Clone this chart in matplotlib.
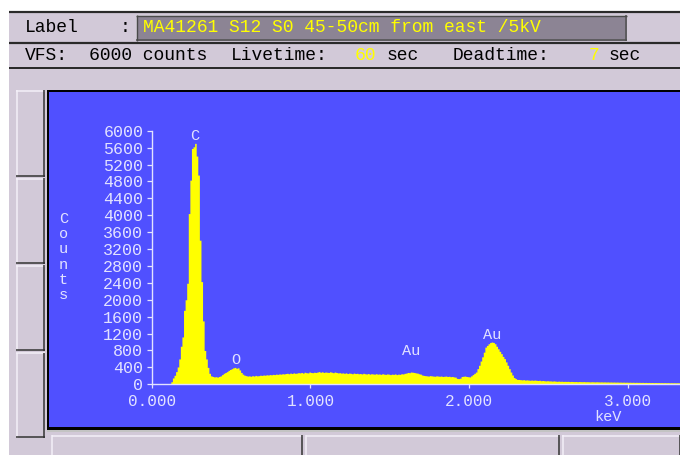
import numpy as np
import matplotlib
matplotlib.use("Agg")
import matplotlib.pyplot as plt
from matplotlib.patches import Rectangle

# ---------------- data ----------------
channel_kev = 0.01  # width of one spectrum channel (keV)
counts = [
    0, 0, 0, 0, 0, 0, 0, 0, 0, 0,                              # 0.00-0.09
    0, 0, 60, 150, 213, 300, 410, 600, 900, 1120,              # 0.10
    1750, 2000, 2390, 4040, 4830, 5580, 5620, 5700, 5400, 4950,  # 0.20
    3410, 2430, 1500, 800, 600, 400, 260, 200, 185, 175,       # 0.30
    180, 170, 185, 200, 230, 260, 280, 300, 330, 350,          # 0.40
    370, 390, 400, 380, 390, 340, 280, 240, 215, 205,          # 0.50
    195, 200, 190, 205, 195, 210, 200, 205, 215, 210,          # 0.60
    220, 215, 225, 220, 230, 225, 235, 230, 240, 235,          # 0.70
    245, 240, 250, 245, 255, 260, 250, 265, 255, 270,          # 0.80
    260, 265, 275, 270, 280, 265, 285, 275, 270, 290,          # 0.90
    280, 275, 285, 280, 290, 300, 285, 295, 280, 290,          # 1.00
    285, 280, 295, 285, 275, 290, 280, 270, 275, 265,          # 1.10
    270, 260, 270, 255, 265, 260, 250, 265, 255, 260,          # 1.20
    250, 255, 245, 260, 250, 245, 255, 240, 250, 245,          # 1.30
    240, 250, 240, 245, 235, 250, 240, 235, 245, 240,          # 1.40
    230, 240, 235, 245, 230, 240, 235, 250, 245, 260,          # 1.50
    265, 280, 275, 290, 285, 280, 270, 265, 250, 240,          # 1.60
    220, 210, 205, 200, 195, 205, 200, 195, 190, 200,          # 1.70
    195, 190, 195, 185, 190, 195, 185, 190, 180, 185,          # 1.80
    175, 170, 140, 135, 145, 185, 190, 195, 185, 180,          # 1.90
    175, 200, 230, 260, 290, 370, 450, 550, 650, 760,          # 2.00
    880, 920, 960, 990, 1000, 990, 960, 900, 840, 780,         # 2.10
    725, 660, 607, 530, 450, 370, 290, 220, 160, 135,          # 2.20
    115, 115, 110, 105, 110, 100, 105, 100, 95, 100,           # 2.30
    95, 100, 95, 90, 95, 85, 90, 85, 80, 85,                   # 2.40
    80, 80, 75, 80, 75, 70, 75, 70, 72, 68,                    # 2.50
    70, 68, 70, 65, 68, 66, 64, 66, 62, 65,                    # 2.60
    63, 62, 64, 60, 62, 60, 58, 61, 59, 57,                    # 2.70
    60, 58, 56, 58, 55, 57, 54, 56, 53, 55,                    # 2.80
    52, 54, 51, 53, 50, 52, 49, 51, 48, 50,                    # 2.90
    47, 49, 46, 48, 45, 47, 45, 46, 44, 46,                    # 3.00
    43, 45, 42, 44, 41, 43, 40, 42, 40, 41,                    # 3.10
    39, 40, 38, 40, 37, 39, 36, 38, 36, 37,                    # 3.20
    35, 36, 35, 34,                                            # 3.30
]
x_ticks = [0, 1, 2, 3]
x_tick_labels = ["0.000", "1.000", "2.000", "3.000"]
y_ticks = list(range(0, 6001, 400))
peak_labels = ["C", "O", "Au", "Au"]
peak_label_kev = [0.269, 0.527, 1.638, 2.148]
peak_label_counts = [5870, 583, 781, 1171]
label_text = "MA41261 S12 S0 45-50cm from east /5kV"
vfs_text = "6000 counts"
livetime_text = "60"
deadtime_text = "7"

# ---------------- style ----------------
plt.rcParams['font.family'] = ['Liberation Mono', 'DejaVu Sans Mono']
LAV = "#D2C9D8"
BLUE = "#5050FF"
LIGHT = "#E2E2FF"
YEL = "#FFFF00"
DARK = "#2A2A2A"
W, H = 680, 455

def lw(px):
    return px * 0.72

fig = plt.figure(figsize=(6.8, 4.55), dpi=100)
fig.patch.set_facecolor("white")
bg = fig.add_axes([0, 0, 1, 1])
bg.set_xlim(0, W)
bg.set_ylim(H, 0)
bg.axis("off")

def hline(x0, x1, y, color, w):
    bg.plot([x0, x1], [y, y], color=color, lw=lw(w), solid_capstyle="butt")

def vline(x, y0, y1, color, w):
    bg.plot([x, x], [y0, y1], color=color, lw=lw(w), solid_capstyle="butt")

def bevel(x0, y0, x1, y1, light="#F4F0F8", dark="#303030", face=LAV, w=1.5):
    bg.add_patch(Rectangle((x0, y0), x1 - x0, y1 - y0, facecolor=face, edgecolor="none"))
    hline(x0, x1, y0 + w / 2, light, w)
    vline(x0 + w / 2, y0, y1, light, w)
    hline(x0, x1, y1 - w / 2, dark, w)
    vline(x1 - w / 2, y0, y1, dark, w)

# GUI background
bg.add_patch(Rectangle((9, 11), W - 9, H - 11, facecolor=LAV, edgecolor="none"))
hline(9, W, 12, DARK, 2.2)
hline(9, W, 43, DARK, 2.2)
hline(9, W, 67.5, DARK, 2.0)

# header label box (sunken)
bevel(136, 15, 627, 40.5, light="#E8E4EC", dark="#505050", face="#8C8494")
hline(136, 627, 15.7, "#4A4A4A", 1.4)
vline(136.7, 15, 40.5, "#4A4A4A", 1.4)

hfs = 13
bg.text(25, 27.5, "Label", fontsize=hfs, color="black", va="center", ha="left")
bg.text(125, 27.5, ":", fontsize=hfs, color="black", va="center", ha="center")
bg.text(143, 27.5, label_text, fontsize=hfs, color=YEL, va="center", ha="left")

bg.text(25, 55.5, "VFS:", fontsize=hfs, color="black", va="center", ha="left")
bg.text(89, 55.5, vfs_text, fontsize=hfs, color="black", va="center", ha="left")
bg.text(231, 55.5, "Livetime:", fontsize=hfs, color="black", va="center", ha="left")
bg.text(355, 55.5, livetime_text, fontsize=hfs, color=YEL, va="center", ha="left")
bg.text(386, 55.5, "sec", fontsize=hfs, color="black", va="center", ha="left")
bg.text(453, 55.5, "Deadtime:", fontsize=hfs, color="black", va="center", ha="left")
bg.text(589, 55.5, deadtime_text, fontsize=hfs, color=YEL, va="center", ha="left")
bg.text(609, 55.5, "sec", fontsize=hfs, color="black", va="center", ha="left")

# left buttons
for (y0, y1) in [(90, 176.5), (178, 263.5), (265, 351), (352.5, 437.5)]:
    bevel(16, y0, 44.5, y1)

# bottom buttons
for (x0, x1) in [(51.5, 303), (305.5, 559.5), (562, 681)]:
    bevel(x0, 435, x1, 458)

# blue panel with border
bg.add_patch(Rectangle((46.5, 89.5), W - 46.5, 342, facecolor="black", edgecolor="none"))
bg.add_patch(Rectangle((49.3, 92), W - 49.3, 335, facecolor=BLUE, edgecolor="none"))
hline(46.5, W, 430.7, "#F4F4F4", 1.6)

# y axis label (vertical stacked letters)
bg.text(63.5, 257, "C\no\nu\nn\nt\ns", fontsize=11, color=LIGHT, va="center", ha="center",
        multialignment="center", linespacing=1.1)

# ---------------- spectrum axes ----------------
x0_px, x1_px = 151.8, 680.0
ytop_px, ybot_px = 130.7, 384.3
px_per_kev = 158.6
ax = fig.add_axes([x0_px / W, (H - ybot_px) / H, (x1_px - x0_px) / W, (ybot_px - ytop_px) / H])
ax.set_facecolor("none")
ax.set_xlim(0, (x1_px - x0_px) / px_per_kev)
ax.set_ylim(0, 6000)

energies = np.arange(len(counts)) * channel_kev
edges = np.append(energies, energies[-1] + channel_kev)
vals = np.append(np.array(counts, float), counts[-1])
ax.fill_between(edges, vals, step="post", color=YEL, lw=0, zorder=1)

for s in ["top", "right"]:
    ax.spines[s].set_visible(False)
for s in ["left", "bottom"]:
    ax.spines[s].set_color(LIGHT)
    ax.spines[s].set_linewidth(1.0)
    ax.spines[s].set_zorder(3)

ax.set_xticks(x_ticks)
ax.set_xticklabels(x_tick_labels)
ax.set_yticks(y_ticks)
ax.set_yticklabels([str(v) for v in y_ticks])
ax.tick_params(axis="y", direction="out", length=3.6, width=0.9, color=LIGHT,
               labelcolor=LIGHT, labelsize=12, pad=2.5)
ax.tick_params(axis="x", direction="out", length=3.0, width=0.9, color=LIGHT,
               labelcolor=LIGHT, labelsize=11.5, pad=4.2)

for lab, e, c in zip(peak_labels, peak_label_kev, peak_label_counts):
    ax.text(e, c, lab, fontsize=11, color=LIGHT, ha="center", va="center")

ax.text((607.5 - x0_px) / px_per_kev, -(421 - ybot_px) / (ybot_px - ytop_px) * 6000, "keV",
        fontsize=11, color=LIGHT, ha="center", va="baseline", clip_on=False)

fig.savefig("out.png", dpi=100, facecolor=fig.get_facecolor())
